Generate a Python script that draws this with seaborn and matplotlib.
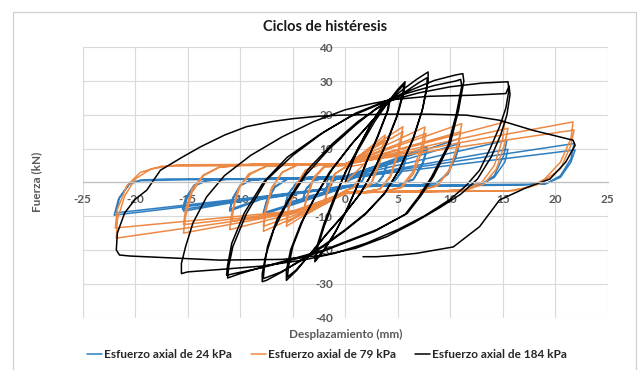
import matplotlib
matplotlib.use("Agg")
import matplotlib.pyplot as plt
from matplotlib.patches import Rectangle
import seaborn as sns
import pandas as pd

# ---------------- data ----------------
title = "Ciclos de histéresis"
x_label = "Desplazamiento (mm)"
y_label = "Fuerza (kN)"
series_names = ["Esfuerzo axial de 24 kPa", "Esfuerzo axial de 79 kPa", "Esfuerzo axial de 184 kPa"]
x_ticks = [-25, -20, -15, -10, -5, 0, 5, 10, 15, 20, 25]
y_ticks = [-40, -30, -20, -10, 0, 10, 20, 30, 40]

blue_x = [0, 2, 1.6, 0.8, 0, -2, -1.6, -0.8, 0,
          2, 1.6, 0.8, 0, -2, -1.6, -0.8, 0,
          4, 3.6, 3, 2, 0, -4, -3.7, -3, -2, 0,
          4, 3.6, 3, 2, 0, -4, -3.7, -3, -2, 0,
          5.8, 5.4, 4.6, 3.5, 0, -5.7, -5.4, -4.6, -3.5, 0,
          5.8, 5.4, 4.6, 3.5, 0, -5.7, -5.4, -4.6, -3.5, 0,
          7.8, 7.4, 6.5, 5, 0, -7.8, -7.5, -6.7, -5.5, -3, 0,
          7.8, 7.4, 6.5, 5, 0, -7.8, -7.5, -6.7, -5.5, -3, 0,
          10.9, 10.6, 9.8, 8.8, 7, 0, -8, -11, -10.7, -10, -9, -7, 0,
          10.9, 10.6, 9.8, 8.8, 7, 0, -8, -11, -10.7, -10, -9, -7, 0,
          15.4, 15.1, 14.2, 13, 11, 0, -8, -15.4, -15.1, -14.3, -13.2, -11, 0,
          15.5, 15.2, 14.2, 13, 11, 0, -8, -15.5, -15.2, -14.4, -13.3, -11, 0,
          21.8, 21.5, 20.5, 19.2, 17, 0, -8, -21.8, -21.5, -20.5, -19.5, -17, 0,
          21.9, 21.5, 20.5, 19, 0, -8, -22, -21.6, -20.6, -19.5, -15, 0, 5]
blue_y = [0, 3, 0.5, -0.8, -1, -3, -0.5, 1, 1.2,
          2.8, 0.3, -0.8, -1, -2.8, -0.4, 1, 1.2,
          5.5, 2, -0.5, -1, -1.3, -4.8, -2, 0.5, 1.2, 1.4,
          5.2, 1.8, -0.6, -1, -1.3, -4.5, -1.8, 0.6, 1.3, 1.5,
          7.5, 3.5, 0, -0.8, -1.5, -6.5, -3.5, 0, 1.2, 1.6,
          7, 3.2, 0, -0.8, -1.4, -6.2, -3.2, 0, 1.2, 1.6,
          10.5, 6, 1, -0.8, -1.5, -9.5, -6, -1.5, 1, 1.6, 1.8,
          9.6, 5.5, 0.8, -0.8, -1.4, -9, -5.5, -1.2, 1, 1.6, 1.8,
          13, 9, 3, 0, -0.8, -1.2, -5, -8.5, -5, -1, 0.6, 1.2, 1.5,
          11.5, 8, 2.5, 0, -0.8, -1.2, -4.8, -8, -4.5, -0.8, 0.6, 1.2, 1.5,
          12.5, 8, 2, -0.5, -1, -1.2, -4.5, -8.5, -5, -1, 0.5, 1, 1.3,
          9.8, 6, 1.5, -0.5, -1, -1.2, -4.4, -8, -4.6, -0.8, 0.5, 1, 1.3,
          11.5, 7, 2, -0.3, -0.8, -1.2, -4.2, -9, -4.5, -0.3, 0.7, 1, 1.2,
          9.6, 6, 1.5, -0.5, -1, -4.5, -9.7, -5, -0.5, 0.5, 0.8, 1, 3.3]

orange_x = [0, 2, 1.5, 0.8, 0, -2, -1.6, -1, 0,
            2, 1.5, 0.8, 0, -2, -1.6, -1, 0,
            3.8, 3.3, 2.5, 1.5, 0, -2, -4, -3.7, -3, -2, 0,
            3.8, 3.3, 2.5, 1.5, 0, -2, -4, -3.7, -3, -2, 0,
            5.5, 5.1, 4.3, 3.3, 1.5, 0, -3, -5.6, -5.4, -4.7, -3.8, -2.5, 0,
            5.5, 5.1, 4.3, 3.3, 1.5, 0, -3, -5.6, -5.4, -4.7, -3.8, -2.5, 0,
            7.6, 7.3, 6.4, 5.3, 3.5, 0, -3.5, -7.8, -7.6, -7, -6, -4.5, 0,
            7.7, 7.4, 6.5, 5.4, 3.5, 0, -3.5, -7.8, -7.6, -7, -6, -4.5, 0,
            11.1, 10.8, 10, 8.8, 7, 0, -4, -11, -10.8, -10.2, -9.2, -7.5, -4, 0,
            11, 10.7, 9.9, 8.7, 7, 0, -4, -10.8, -10.6, -10, -9, -7.5, -4, 0,
            15.2, 15, 14.2, 13, 11.5, 9, 0, -5, -15.4, -15.2, -14.6, -13.5, -12, -9, 0,
            15.5, 15.2, 14.4, 13.2, 11.6, 9, 0, -5, -15.4, -15.2, -14.6, -13.5, -12, -9, 0,
            21.7, 21.5, 20.5, 19, 17.5, 15.5, 0, -5, -21.8, -21.7, -21, -20, -18.5, -16, 0,
            21.8, 21.5, 20.5, 18.5, 16, 0, -5, -21.9, -21.7, -20.8, -19.5, -17.5, 0, 6]
orange_y = [0, 6, 2, -1.5, -2.5, -6, -2, 2.5, 4.5,
            5.5, 1.8, -1.5, -2.5, -5.8, -2, 2.5, 4.5,
            14, 7, 0, -2.5, -3, -6.5, -10, -5, 1, 4.5, 5,
            12.5, 6, -0.5, -2.5, -3, -6.5, -9.5, -4.5, 1.5, 4.8, 5.2,
            16.5, 10, 2, -2, -3, -3.2, -8, -13, -8, -1, 3.5, 5.2, 5.4,
            15, 9, 1.5, -2, -3, -3.2, -7.5, -12, -7.5, -1, 3.5, 5.2, 5.4,
            16.4, 11, 3, -1.5, -2.8, -3.3, -8.5, -14.5, -9, -2, 3, 5.3, 5.5,
            14.5, 10, 2.5, -1.5, -2.8, -3.3, -8.3, -13, -8, -1.5, 3, 5.2, 5.4,
            17.4, 12, 4, -1, -2.5, -3, -8.5, -14, -9, -2, 2.5, 4.8, 5.3, 5.4,
            15, 10.5, 3.5, -1, -2.5, -3, -8, -11.5, -7, -1, 2.5, 4.8, 5.3, 5.4,
            17.9, 13, 5, 0, -2, -2.6, -3, -9, -15, -10, -3, 2, 4.5, 5.3, 5.5,
            16, 11.5, 4, -0.5, -2.2, -2.6, -3, -8.8, -12.5, -8, -2, 2.2, 4.5, 5.3, 5.5,
            17.9, 13, 6, 1, -1.5, -2.5, -3, -9, -16.5, -11, -4, 1, 4, 5.2, 5.5,
            15.5, 11, 4, -0.5, -2.5, -3, -8.5, -13.5, -8, -1, 3, 4.8, 5.2, 9]

black_x = [0, 1.2, 2.4, 3.5, 4.2,
           4.0, 3.0, 2.0, 1.0, 0.0, -1.0, -2.0, -2.8,
           -2.7, -2.0, -1.0, 0.0, 1.3, 2.5, 3.6, 4.3,
           4.1, 3.1, 2.1, 1.1, 0.1, -0.9, -1.9, -2.9,
           -2.7, -2.0, -1.0, 0.2, 1.5, 2.8, 4.2, 5.0, 5.7,
           5.6, 5.0, 4.0, 2.8, 1.5, 0.0, -1.7, -3.3, -4.6, -5.6,
           -5.6, -5.2, -4.2, -3.0, -1.5, 0.5, 2.5, 4.2, 5.1, 5.6,
           5.5, 4.9, 3.9, 2.7, 1.4, -0.1, -1.8, -3.4, -4.7, -5.5,
           -5.4, -5.0, -4.0, -2.8, -1.2, 0.8, 2.8, 4.3, 5.5, 6.8, 7.9,
           7.9, 7.4, 6.5, 5.2, 3.8, 2.0, 0.0, -2.0, -4.0, -6.0, -7.5, -7.9,
           -7.9, -7.6, -6.8, -5.5, -3.8, -1.5, 1.0, 3.0, 4.4, 5.8, 7.0, 7.8,
           7.8, 7.3, 6.4, 5.1, 3.7, 1.9, -0.1, -2.1, -4.1, -6.1, -7.8,
           -7.7, -7.4, -6.5, -5.2, -3.5, -1.2, 1.2, 3.0, 4.5, 6.0, 8.5, 10.5, 11.2,
           11.3, 10.8, 10.0, 8.4, 7.2, 5.9, 3.0, 0.5, -2.0, -4.3, -7.8, -10.0, -11.2,
           -11.1, -10.7, -9.4, -7.5, -5.0, -2.0, 1.0, 4.0, 6.0, 8.5, 10.5, 11.0,
           11.1, 10.6, 9.8, 8.2, 7.0, 5.7, 2.8, 0.3, -2.2, -4.5, -8.0, -10.3, -11.3,
           -11.2, -10.8, -9.6, -7.8, -5.5, -2.5, 0.5, 3.0, 4.6, 7.0, 10.0, 13.0, 15.5,
           15.6, 15.3, 14.7, 13.8, 12.8, 11.5, 10.0, 7.5, 5.0, 2.0, -1.0, -4.0, -8.0, -12.0, -15.0, -15.6,
           -15.6, -15.2, -14.5, -13.2, -11.5, -9.0, -6.0, -3.0, 0.0, 2.5, 4.5, 8.0, 12.0, 15.3, 15.6,
           15.7, 15.4, 14.8, 13.9, 12.6, 11.0, 9.0, 6.5, 4.0, 1.0, -2.0, -6.0, -12.0, -17.0, -20.5, -21.5, -21.8,
           -21.7, -21.0, -20.0, -18.9, -17.6, -15.5, -13.8, -11.5, -9.4, -7.0, -4.9, -2.5, -0.5, 4.0, 8.0, 11.6, 14.7, 17.9, 20.0, 21.7,
           21.9, 21.0, 19.5, 17.3, 14.7, 12.8, 10.3, 6.8, 5.2, 3.0, 1.7]
black_y = [0, 10, 17, 22.5, 24.5,
           21, 13, 6, -2, -9, -15, -20, -23,
           -20, -13, -5, 3, 10.5, 17.5, 22.8, 24.8,
           21.5, 13.5, 6.5, -1.5, -8.5, -14.5, -19.5, -23.5,
           -19, -12, -4, 4, 11, 18, 24.3, 27.5, 29.8,
           27, 20, 12, 4, -3, -9, -15, -21, -26, -29,
           -26, -20, -12, -5, 3, 11, 18, 24, 27.3, 29,
           26.5, 19.5, 11.5, 3.5, -3.5, -9.5, -15.5, -21.5, -26, -28,
           -25, -19, -11, -4, 4, 12, 19, 24.4, 27.5, 30.5, 32.7,
           30, 22, 13, 4, -3, -9, -14, -18.5, -22.5, -26.5, -29, -29.4,
           -27, -22, -14, -6, 2, 10, 17, 22, 24.5, 27, 29.5, 31,
           28.5, 21, 12.5, 3.5, -3.5, -9.5, -14.5, -19, -23, -26.5, -28.5,
           -25, -19, -11, -4, 4, 11.5, 18, 21.8, 24.4, 27, 30.2, 31.8, 32.2,
           30, 21.4, 11.5, 1.7, -4, -9.2, -14, -17, -20, -22, -25, -27, -28.3,
           -25, -19, -9.2, 0.7, 8, 15, 20.5, 24.3, 26.5, 28.7, 30, 30.5,
           28.5, 20.5, 11, 1.5, -4.2, -9.5, -14.5, -17.5, -20.5, -22.5, -25.3, -26.8, -27.5,
           -24.5, -18, -9, 0, 7.5, 14, 19.5, 22.8, 24.5, 26.5, 28.3, 29.4, 29.8,
           27.5, 22, 16.5, 10, 3.6, -1, -5, -10, -14, -18, -21, -23, -24.8, -25.8, -26.5, -27,
           -24, -19, -12, -4.3, 2, 8, 13.5, 18, 21.5, 23.3, 24.5, 25.5, 25.8, 26.3, 28.5,
           26, 20, 14, 7.5, 1, -3.5, -7.5, -12, -16, -19.5, -21.5, -22.8, -23, -22.3, -21.8, -21.5, -20,
           -15, -9, -5, -2.3, 3.6, 7.5, 10.5, 14, 16.5, 18, 18.9, 19.6, 19.9, 20.2, 20.2, 19.9, 18.4, 15.4, 13.8, 12.5,
           11, 6, 1, -1.5, -5.2, -13.1, -19.1, -21, -21.5, -22, -22]

colors = ["#2E7EC0", "#EC8A45", "#000000"]

# ---------------- build long table ----------------
frames = []
for name, xs, ys in zip(series_names, [blue_x, orange_x, black_x], [blue_y, orange_y, black_y]):
    frames.append(pd.DataFrame({"x": xs, "y": ys, "serie": name, "orden": range(len(xs))}))
df = pd.concat(frames, ignore_index=True)

# ---------------- figure ----------------
sns.set_style("white")
plt.rcParams["font.family"] = ["Lato", "DejaVu Sans"]

W, H = 644, 370
fig = plt.figure(figsize=(W / 100, H / 100), dpi=100)
L, R, T, B = 82.7, 607.7, 47.3, 317.5
ax = fig.add_axes([L / W, 1 - B / H, (R - L) / W, (B - T) / H])

sns.lineplot(data=df, x="x", y="y", hue="serie", hue_order=series_names,
             palette=colors, sort=False, estimator=None, linewidth=1.1, ax=ax)

ax.set_xlim(-25, 25)
ax.set_ylim(-40, 40)
ax.set_xticks(x_ticks)
ax.set_xticklabels([str(v) for v in x_ticks])
ax.set_yticks(y_ticks)
ax.set_yticklabels([str(v) for v in y_ticks])
ax.set_axisbelow(True)
ax.grid(True, color="#d9d9d9", linewidth=0.8)
for s in ["top", "right"]:
    ax.spines[s].set_visible(False)
ax.spines["left"].set_position(("data", 0))
ax.spines["left"].set_visible(False)
ax.spines["bottom"].set_position(("data", 0))
ax.spines["bottom"].set_color("#bfbfbf")
ax.spines["bottom"].set_linewidth(0.9)
ax.tick_params(axis="both", length=0, labelsize=8.5, labelcolor="#595959")
ax.tick_params(axis="x", pad=8)
ax.tick_params(axis="y", pad=9)
for lab in ax.get_xticklabels() + ax.get_yticklabels():
    lab.set_fontweight("bold")
ax.set_xlabel("")
ax.set_ylabel("")

fig.text((L + R) / 2 / W, 1 - 334 / H, x_label, ha="center", va="center",
         fontsize=8.5, fontweight="bold", color="#595959")
fig.text(37 / W, 1 - 182 / H, y_label, ha="center", va="center", rotation=90,
         fontsize=8.5, fontweight="bold", color="#595959")
fig.text(325 / W, 1 - 27 / H, title, ha="center", va="center",
         fontsize=10.5, fontweight="bold", color="#1a1a1a")

handles, labels = ax.get_legend_handles_labels()
ax.get_legend().remove()
fig.legend(handles, labels, loc="center", bbox_to_anchor=(327 / W, 1 - 355 / H), ncol=3,
           frameon=False, handlelength=1.3, handletextpad=0.15, columnspacing=1.6,
           prop={"size": 8.5, "weight": "bold"}, labelcolor="#262626")

fig.patches.append(Rectangle((13 / W, -0.05), (636 - 13) / W, 1.05 - 12 / H,
                             transform=fig.transFigure, fill=False,
                             edgecolor="#d0d0d0", linewidth=0.9))

fig.savefig("out.png", dpi=100)
